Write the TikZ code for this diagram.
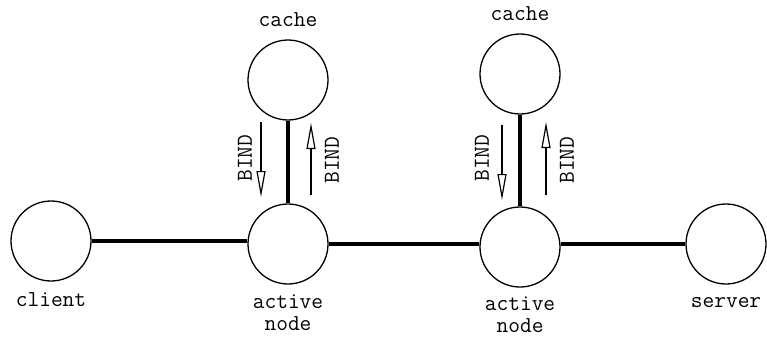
\documentclass[tikz,border=0pt]{standalone}
\usepackage{fontspec}
\usetikzlibrary{arrows.meta,positioning}

\begin{document}
\begin{tikzpicture}[x=1pt,y=-1pt,
    host/.style={draw, circle, line width=1.3pt, minimum size=80pt, inner sep=0pt},
    link/.style={line width=3.6pt},
    bind/.style={line width=1.2pt, -{Triangle[open,length=26pt,width=9pt]}},
    lbl/.style={font=\ttfamily\fontsize{22.8}{22}\selectfont, inner sep=0pt, align=center}]
    \useasboundingbox (0,0) rectangle (767,337);
    % hosts along the path
    \node[host] (client) at (51,241) {};
    \node[host] (act1) at (288,244) {};
    \node[host] (act2) at (520,247) {};
    \node[host] (server) at (726,244) {};
    % caches on top of the active nodes
    \node[host] (cache1) at (288,80) {};
    \node[host] (cache2) at (520,74) {};
    \draw[link] (client.east) -- (client.east -| act1.west);
    \draw[link] (act1.east) -- (act1.east -| act2.west);
    \draw[link] (server.west) -- (server.west -| act2.east);
    \draw[link] (cache1) -- (act1); \draw[link] (cache2) -- (act2);
    % bind requests and replies
    \coordinate (b1a) at (261,122); \coordinate (b1b) at (261,197);
    \coordinate (b2a) at (311,195); \coordinate (b2b) at (311,123);
    \coordinate (b3a) at (502,125); \coordinate (b3b) at (502,200);
    \coordinate (b4a) at (546,195); \coordinate (b4b) at (546,122);
    \draw[bind] (b1a) -- (b1b); \draw[bind] (b2a) -- (b2b);
    \draw[bind] (b3a) -- (b3b); \draw[bind] (b4a) -- (b4b);
    \node[lbl, rotate=90] at (245,158) {BIND}; \node[lbl, rotate=90] at (332,160) {BIND};
    \node[lbl, rotate=90] at (482,158) {BIND}; \node[lbl, rotate=90] at (567,160) {BIND};
    % names
    \node[lbl, above=13pt of cache1] {cache}; \node[lbl, above=13pt of cache2] {cache};
    \node[lbl, below=11pt of client] {client}; \node[lbl, below=13pt of server] {server};
    \node[lbl, below=10pt of act1] {active\\node}; \node[lbl, below=9pt of act2] {active\\node};
\end{tikzpicture}
\end{document}
